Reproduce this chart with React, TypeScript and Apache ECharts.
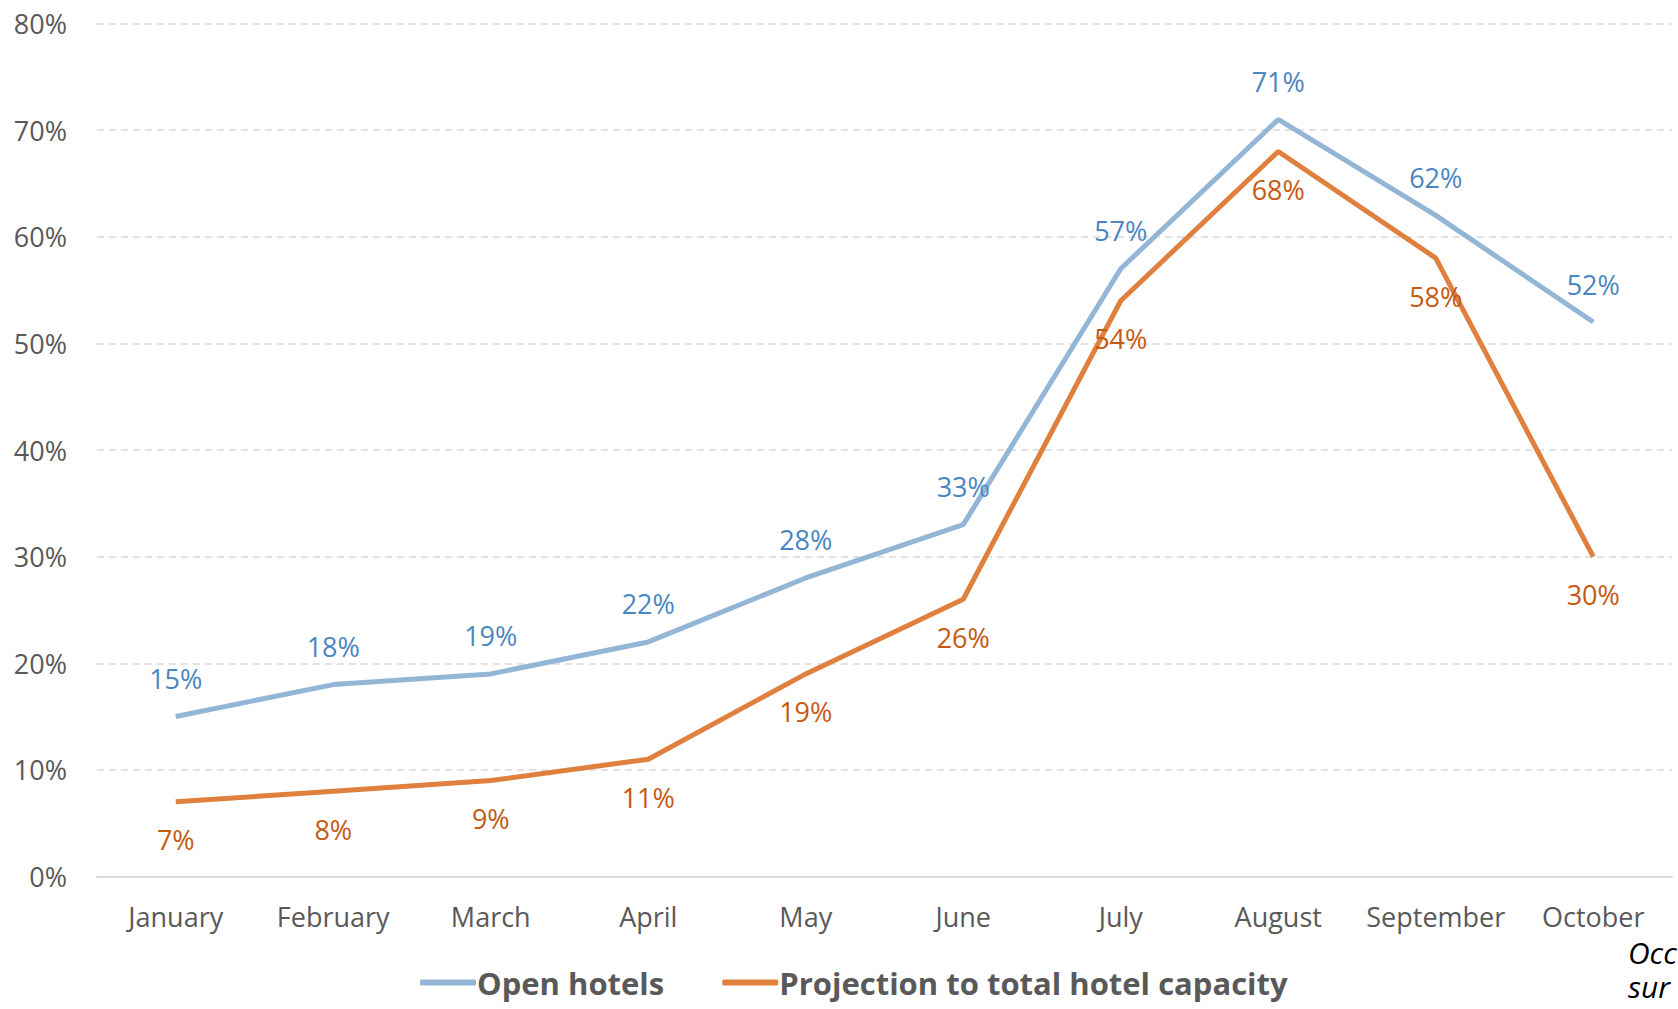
import React, { useEffect, useRef } from "react";
import * as echarts from "echarts";

const months = ["January", "February", "March", "April", "May", "June", "July", "August", "September", "October"];
const openHotels = [15, 18, 19, 22, 28, 33, 57, 71, 62, 52];
const projection = [7, 8, 9, 11, 19, 26, 54, 68, 58, 30];
const seriesNames = ["Open hotels", "Projection to total hotel capacity"];
const seriesColors = ["#93B5D6", "#E0803F"];
const labelColors = ["#4A86C0", "#C55A11"];
const noteLines = ["Occ", "sur"];

const FONT = "'Open Sans', 'Noto Sans', sans-serif";

export default function App() {
  const ref = useRef<HTMLDivElement>(null);
  useEffect(() => {
    document.body.style.margin = "0";
    const chart = echarts.init(ref.current!, null, { renderer: "svg" });
    chart.setOption({
      animation: false,
      backgroundColor: "#ffffff",
      textStyle: { fontFamily: FONT },
      grid: { left: 97, right: 6, top: 23.5, bottom: 132.5, containLabel: false },
      legend: {
        left: 415,
        top: 962,
        icon: "roundRect",
        itemWidth: 56,
        itemHeight: 6,
        itemGap: 58,
        textStyle: { fontFamily: FONT, fontSize: 31, fontWeight: "bold", color: "#595959", padding: [0, 0, 0, -4] },
        data: seriesNames.map((n, i) => ({ name: n, itemStyle: { color: seriesColors[i], opacity: 1 } })),
      },
      xAxis: {
        type: "category",
        data: months,
        boundaryGap: true,
        axisLine: { lineStyle: { color: "#d9d9d9", width: 2 } },
        axisTick: { show: false },
        axisLabel: { color: "#595959", fontSize: 27, fontFamily: FONT, margin: 26, interval: 0 },
      },
      yAxis: {
        type: "value",
        min: 0,
        max: 80,
        interval: 10,
        axisLine: { show: false },
        axisTick: { show: false },
        axisLabel: { color: "#595959", fontSize: 27, fontFamily: FONT, margin: 30, formatter: "{value}%" },
        splitLine: { lineStyle: { color: "#d9d9d9", width: 1.5, type: [7, 5] } },
      },
      series: [
        {
          name: seriesNames[0],
          type: "line",
          data: openHotels,
          symbol: "circle",
          symbolSize: 1,
          showSymbol: true,
          lineStyle: { color: seriesColors[0], width: 5 },
          itemStyle: { color: seriesColors[0], opacity: 0 },
          label: {
            show: true,
            position: "top",
            distance: 24,
            formatter: "{c}%",
            color: labelColors[0],
            fontSize: 27,
            fontFamily: FONT,
            opacity: 1,
          },
        },
        {
          name: seriesNames[1],
          type: "line",
          data: projection,
          symbol: "circle",
          symbolSize: 1,
          showSymbol: true,
          lineStyle: { color: seriesColors[1], width: 5 },
          itemStyle: { color: seriesColors[1], opacity: 0 },
          label: {
            show: true,
            position: "bottom",
            distance: 24,
            formatter: "{c}%",
            color: labelColors[1],
            fontSize: 27,
            fontFamily: FONT,
            opacity: 1,
          },
        },
      ],
      graphic: [
        {
          type: "text",
          left: 1628,
          top: 937,
          style: { text: noteLines[0], font: `italic 30px ${FONT}`, fill: "#000000" },
        },
        {
          type: "text",
          left: 1628,
          top: 971,
          style: { text: noteLines[1], font: `italic 30px ${FONT}`, fill: "#000000" },
        },
      ],
    });
    return () => chart.dispose();
  }, []);
  return <div ref={ref} style={{ width: 1678, height: 1009, overflow: "hidden" }} />;
}
